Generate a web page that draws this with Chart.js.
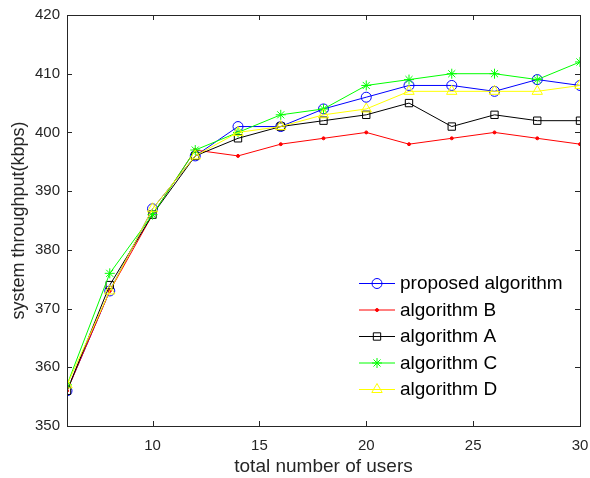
<!DOCTYPE html>
<html>
<head>
<meta charset="utf-8">
<script src="https://cdn.jsdelivr.net/npm/chart.js@4/dist/chart.umd.min.js"></script>
<style>
  html, body { margin: 0; padding: 0; background: #fff; }
  #wrap { width: 590px; height: 478px; }
</style>
</head>
<body>
<div id="wrap"><canvas id="thrChart"></canvas></div>
<script>
// x 軸：使用者數量
const users = [6, 8, 10, 12, 14, 16, 18, 20, 22, 24, 26, 28, 30];
const xTicks = [10, 15, 20, 25, 30];

// 各演算法的吞吐量 (kbps)
const proposed = [356, 373, 387, 396, 401, 401, 404, 406, 408, 408, 407, 409, 408];
const algB     = [356, 373, 386, 397, 396, 398, 399, 400, 398, 399, 400, 399, 398];
const algA     = [356, 374, 386, 396, 399, 401, 402, 403, 405, 401, 403, 402, 402];
const algC     = [357, 376, 386, 397, 400, 403, 404, 408, 409, 410, 410, 409, 412];
const algD     = [357, 373, 387, 396, 400, 401, 403, 404, 407, 407, 407, 407, 408];

const seriesNames = ["proposed algorithm", "algorithm B", "algorithm A", "algorithm C", "algorithm D"];

const FONT = "'Liberation Sans', Arial, sans-serif";

const toPoints = (vals) => vals.map((v, i) => ({ x: users[i], y: v }));

// 一條線的樣式
const line = (label, vals, color, style, r, order, fill) => ({
  label: label,
  data: toPoints(vals),
  borderColor: color,
  borderWidth: 1,
  pointStyle: style,
  pointRadius: r,
  pointHoverRadius: r,
  pointBorderColor: color,
  pointBackgroundColor: fill ? color : "rgba(0,0,0,0)",
  pointBorderWidth: 1,
  tension: 0,
  order: order,
});

const datasets = [
  line(seriesNames[0], proposed, "#0000ff", "circle", 5, 5, false),
  line(seriesNames[1], algB, "#ff0000", "circle", 1.5, 4, true),
  line(seriesNames[2], algA, "#000000", "rect", 5.2, 3, false),
  line(seriesNames[3], algC, "#00ff00", "star", 5, 2, false),
  line(seriesNames[4], algD, "#ffff00", "triangle", 6, 1, false),
];

// 畫外框與向內的刻度 (MATLAB 風格)
const boxPlugin = {
  id: "boxTicks",
  afterDraw(chart) {
    const { ctx, chartArea: a, scales } = chart;
    ctx.save();
    ctx.strokeStyle = "#262626";
    ctx.lineWidth = 1;
    ctx.strokeRect(Math.round(a.left) + 0.5, Math.round(a.top) + 0.5,
      Math.round(a.right - a.left), Math.round(a.bottom - a.top));
    const tl = 5;
    ctx.beginPath();
    xTicks.forEach((v) => {
      const px = Math.round(scales.x.getPixelForValue(v)) + 0.5;
      ctx.moveTo(px, a.bottom); ctx.lineTo(px, a.bottom - tl);
      ctx.moveTo(px, a.top); ctx.lineTo(px, a.top + tl);
    });
    scales.y.ticks.forEach((t) => {
      const py = Math.round(scales.y.getPixelForValue(t.value)) + 0.5;
      ctx.moveTo(a.left, py); ctx.lineTo(a.left + tl, py);
      ctx.moveTo(a.right, py); ctx.lineTo(a.right - tl, py);
    });
    ctx.stroke();
    ctx.restore();
  },
};

function drawMarker(ctx, ds, x, y) {
  const r = ds.pointRadius;
  ctx.save();
  ctx.strokeStyle = ds.pointBorderColor;
  ctx.fillStyle = ds.pointBackgroundColor;
  ctx.lineWidth = 1;
  ctx.beginPath();
  if (ds.pointStyle === "circle") {
    ctx.arc(x, y, r, 0, Math.PI * 2);
    ctx.fill(); ctx.stroke();
  } else if (ds.pointStyle === "rect") {
    const s = r * Math.SQRT1_2;
    ctx.rect(x - s, y - s, 2 * s, 2 * s);
    ctx.stroke();
  } else if (ds.pointStyle === "triangle") {
    ctx.moveTo(x, y - r);
    ctx.lineTo(x + r * 0.866, y + r * 0.5);
    ctx.lineTo(x - r * 0.866, y + r * 0.5);
    ctx.closePath();
    ctx.stroke();
  } else if (ds.pointStyle === "star") {
    for (let k = 0; k < 4; k++) {
      const ang = k * Math.PI / 4;
      ctx.moveTo(x - r * Math.cos(ang), y - r * Math.sin(ang));
      ctx.lineTo(x + r * Math.cos(ang), y + r * Math.sin(ang));
    }
    ctx.stroke();
  }
  ctx.restore();
}

// 圖內右下角的圖例
const legendPlugin = {
  id: "insideLegend",
  afterDraw(chart) {
    const { ctx, chartArea: a } = chart;
    const x0 = a.right - 221, x1 = a.right - 185, tx = a.right - 180;
    let y = a.bottom - 143;
    ctx.save();
    ctx.font = "19px " + FONT;
    ctx.textBaseline = "middle";
    ctx.fillStyle = "#000";
    chart.data.datasets.forEach((ds) => {
      ctx.strokeStyle = ds.borderColor;
      ctx.lineWidth = 1;
      ctx.beginPath();
      ctx.moveTo(x0, y + 0.5); ctx.lineTo(x1, y + 0.5);
      ctx.stroke();
      drawMarker(ctx, ds, (x0 + x1) / 2, y + 0.5);
      ctx.fillStyle = "#000";
      ctx.fillText(ds.label, tx, y + 1);
      y += 26.5;
    });
    ctx.restore();
  },
};

const ctx = document.getElementById("thrChart").getContext("2d");

new Chart(ctx, {
  type: "line",
  data: { datasets: datasets },
  options: {
    responsive: true,
    maintainAspectRatio: false,
    animation: false,
    layout: { padding: { left: 0, right: 10, top: 15, bottom: 0 } },
    scales: {
      x: {
        type: "linear",
        min: 6,
        max: 30,
        afterBuildTicks: (scale) => {
          scale.ticks = xTicks.map((v) => ({ value: v }));
        },
        afterFit: (scale) => {
          scale.height = 52;
          scale.paddingLeft = 0;
          scale.paddingRight = 0;
        },
        grid: { display: false, drawTicks: false },
        border: { display: false },
        ticks: {
          color: "#262626",
          padding: 11,
          maxRotation: 0,
          font: { family: FONT, size: 15 },
        },
        title: {
          display: true,
          text: "total number of users",
          color: "#262626",
          padding: { top: 0, bottom: 0 },
          font: { family: FONT, size: 19 },
        },
      },
      y: {
        min: 350,
        max: 420,
        afterFit: (scale) => {
          scale.width = 67;
          scale.paddingTop = 0;
          scale.paddingBottom = 0;
        },
        grid: { display: false, drawTicks: false },
        border: { display: false },
        ticks: {
          stepSize: 10,
          color: "#262626",
          padding: 7,
          font: { family: FONT, size: 15 },
        },
        title: {
          display: true,
          text: "system throughput(kbps)",
          color: "#262626",
          padding: { top: 8, bottom: 0 },
          font: { family: FONT, size: 18 },
        },
      },
    },
    plugins: {
      legend: { display: false },
      tooltip: { enabled: false },
    },
  },
  plugins: [boxPlugin, legendPlugin],
});
</script>
</body>
</html>
